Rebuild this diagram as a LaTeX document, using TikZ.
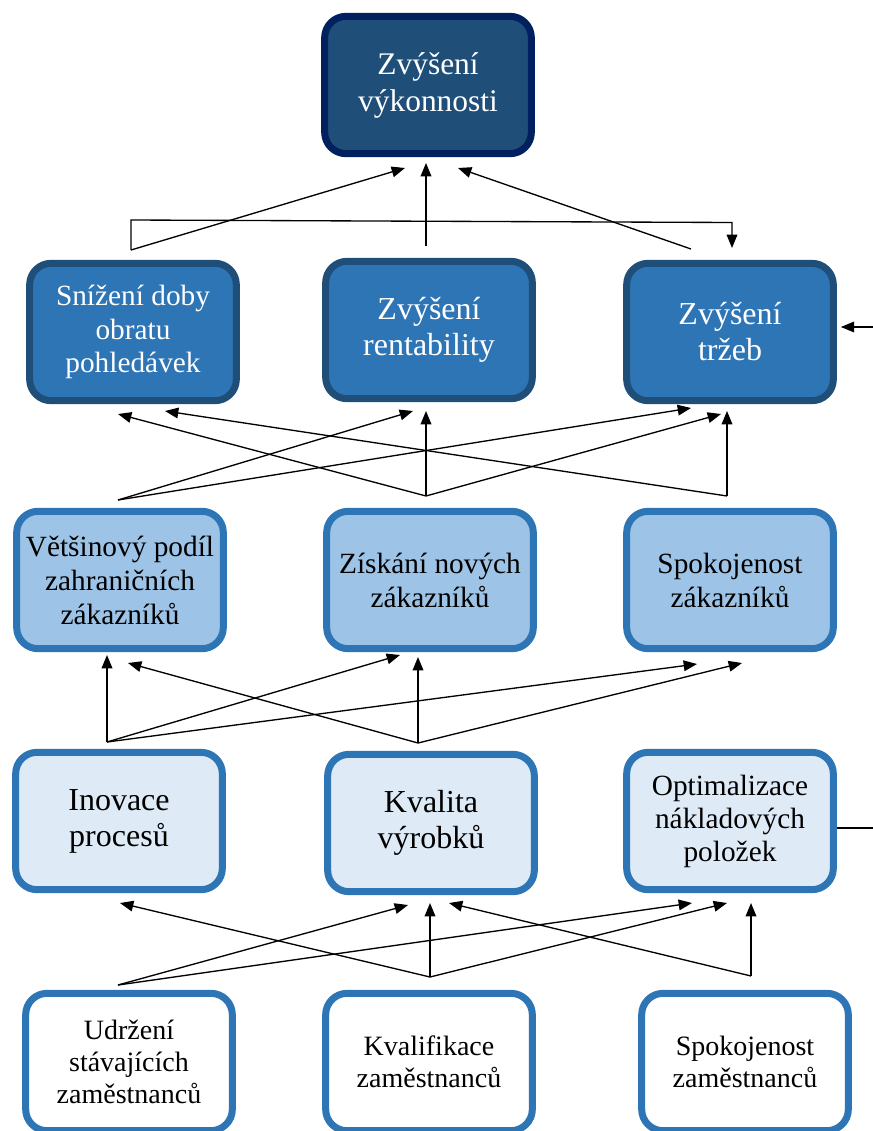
\documentclass[tikz,border=0pt]{standalone}
\usepackage{fontspec}
\setmainfont{Liberation Serif}
\usetikzlibrary{arrows.meta}

\definecolor{navyedge}{HTML}{002060}
\definecolor{darkblue}{HTML}{1F4E79}
\definecolor{midblue}{HTML}{2E75B6}
\definecolor{lightblue}{HTML}{9DC3E6}
\definecolor{paleblue}{HTML}{DEEBF7}

\tikzset{
  box/.style={draw, rounded corners=16pt, align=center, inner sep=0pt,
    line width=5.25pt, minimum width=155pt, minimum height=103pt},
  goalbox/.style={box, draw=navyedge, fill=darkblue, text=white,
    font=\fontsize{23.6}{27.75}\selectfont},
  finbox/.style={box, draw=darkblue, fill=midblue, text=white,
    font=\fontsize{24}{27}\selectfont},
  custbox/.style={box, draw=midblue, fill=lightblue,
    font=\fontsize{22}{25.5}\selectfont},
  procbox/.style={box, draw=midblue, fill=paleblue,
    font=\fontsize{24}{27}\selectfont},
  staffbox/.style={box, draw=midblue, fill=white,
    font=\fontsize{21}{24}\selectfont},
  link/.style={line width=1pt, -{Triangle[length=10pt,width=8pt]}},
  plain/.style={line width=1pt}
}

\begin{document}
\begin{tikzpicture}[x=0.75pt, y=-0.75pt]
\useasboundingbox (0,0) rectangle (873,1131);
\clip (0,0) rectangle (873,1131);

% ---- boxes ----
\node[goalbox] (goal) at (428,85) {Zvýšení\\výkonnosti};

\node[finbox, font=\fontsize{22}{25.2}\selectfont] (fin1) at (133,332) {Snížení doby\\obratu\\pohledávek};
\node[finbox] (fin2) at (429,330) {Zvýšení\\rentability};
\node[finbox] (fin3) at (730,332) {Zvýšení\\tržeb};

\node[custbox] (cus1) at (120,580) {Většinový podíl\\zahraničních\\zákazníků};
\node[custbox] (cus2) at (430,580) {Získání nových\\zákazníků};
\node[custbox] (cus3) at (730,580) {Spokojenost\\zákazníků};

\node[procbox] (pro1) at (119,821) {Inovace\\procesů};
\node[procbox] (pro2) at (431,823) {Kvalita\\výrobků};
\node[procbox, font=\fontsize{22}{24.75}\selectfont] (pro3) at (730,821) {Optimalizace\\nákladových\\položek};

\node[staffbox] (stf1) at (129,1062) {Udržení\\stávajících\\zaměstnanců};
\node[staffbox] (stf2) at (429,1062) {Kvalifikace\\zaměstnanců};
\node[staffbox] (stf3) at (745,1062) {Spokojenost\\zaměstnanců};

% ---- branching points and arrow tips ----
% financial level -> goal
\coordinate (f1) at (131,250);
\coordinate (f2) at (426,246);
\coordinate (f3) at (691,249);
\coordinate (g1) at (405,168);
\coordinate (g2) at (426,163);
\coordinate (g3) at (458,168);
\coordinate (fbl) at (131,220);
\coordinate (fbr) at (732,222.5);
\coordinate (fbt) at (732,248);

% customer level -> financial level
\coordinate (c1) at (118,500);
\coordinate (c2) at (426,496);
\coordinate (c3) at (727,496);
\coordinate (t1a) at (118,414);
\coordinate (t1b) at (165,411);
\coordinate (t2a) at (413,411);
\coordinate (t2b) at (426,411);
\coordinate (t3a) at (691,408);
\coordinate (t3b) at (721,414);
\coordinate (t3c) at (727,411);

% process level -> customer level
\coordinate (p1) at (107,742);
\coordinate (p2) at (418,743);
\coordinate (u1a) at (107,655);
\coordinate (u1b) at (128,663);
\coordinate (u2a) at (400,655);
\coordinate (u2b) at (418,657);
\coordinate (u3a) at (697,664);
\coordinate (u3b) at (742,663);

% staff level -> process level
\coordinate (s1) at (118,985);
\coordinate (s2) at (430,977);
\coordinate (s3) at (751,976);
\coordinate (v1a) at (120,903);
\coordinate (v2a) at (408,905);
\coordinate (v2b) at (430,903);
\coordinate (v2c) at (449,903);
\coordinate (v3a) at (692,903);
\coordinate (v3b) at (727,903);
\coordinate (v3c) at (751,903);

% side connectors leaving the picture on the right
\coordinate (sideIn) at (873,327);
\coordinate (sideOut) at (873,828);

% ---- connectors ----
\draw[link] (f1) -- (g1);
\draw[link] (f2) -- (g2);
\draw[link] (f3) -- (g3);
\draw[link] (f1) -- (fbl) -- (fbr) -- (fbt);

\draw[link] (c1) -- (t2a);
\draw[link] (c1) -- (t3a);
\draw[link] (c2) -- (t1a);
\draw[link] (c2) -- (t2b);
\draw[link] (c2) -- (t3b);
\draw[link] (c3) -- (t3c);
\draw[link] (c3) -- (t1b);

\draw[link] (p1) -- (u1a);
\draw[link] (p1) -- (u2a);
\draw[link] (p1) -- (u3a);
\draw[link] (p2) -- (u2b);
\draw[link] (p2) -- (u1b);
\draw[link] (p2) -- (u3b);

\draw[link] (s1) -- (v2a);
\draw[link] (s1) -- (v3a);
\draw[link] (s2) -- (v1a);
\draw[link] (s2) -- (v2b);
\draw[link] (s2) -- (v3b);
\draw[link] (s3) -- (v3c);
\draw[link] (s3) -- (v2c);

\draw[link, shorten >=3pt] (sideIn) -- (sideIn -| fin3.east);
\draw[plain] (sideOut -| pro3.east) -- (sideOut);
\end{tikzpicture}
\end{document}
